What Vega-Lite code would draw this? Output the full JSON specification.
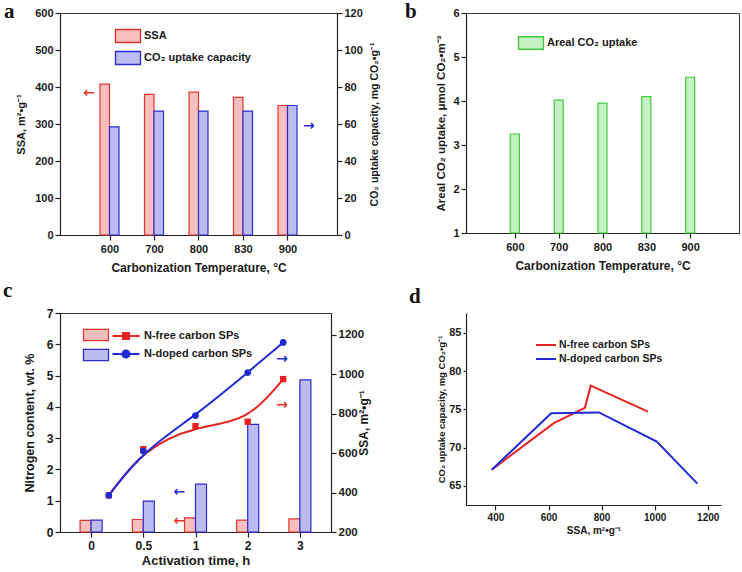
{
  "$schema": "https://vega.github.io/schema/vega-lite/v6.json",
  "background": "white",
  "padding": {"left": 2, "top": 0, "right": 2, "bottom": 2},
  "config": {
    "font": "Liberation Sans",
    "view": {"stroke": "#3a3a3a", "strokeWidth": 1},
    "axis": {"labelFont": "Liberation Sans", "labelFontWeight": "bold", "labelFontSize": 11, "labelColor": "#1a1a1a", "titleFont": "Liberation Sans", "titleFontWeight": "bold", "titleFontSize": 12, "titleColor": "#1a1a1a", "domainColor": "#222222", "domainWidth": 1.2, "tickColor": "#222222", "tickWidth": 1.2, "tickSize": 5, "grid": false, "labelPadding": 2, "labelFlush": false, "labelOverlap": false},
    "axisX": {"labelAngle": 0},
    "legend": {"labelFont": "Liberation Sans", "labelFontWeight": "bold", "labelFontSize": 11, "labelColor": "#1a1a1a", "labelLimit": 300, "padding": 0},
    "title": {"font": "Liberation Serif", "fontSize": 21, "fontWeight": "bold", "anchor": "start", "frame": "group", "offset": 0, "color": "#111111"}
  },
  "datasets": {
    "temperature": [
      {"temp": "600", "i": 0, "ssa": 408, "co2": 58.4, "areal": 3.25},
      {"temp": "700", "i": 1, "ssa": 380, "co2": 67.0, "areal": 4.02},
      {"temp": "800", "i": 2, "ssa": 386, "co2": 67.0, "areal": 3.95},
      {"temp": "830", "i": 3, "ssa": 372, "co2": 67.0, "areal": 4.10},
      {"temp": "900", "i": 4, "ssa": 350, "co2": 70.0, "areal": 4.54}
    ],
    "activationBars": [
      {"time": "0", "i": 0, "nfree": 0.37, "ndoped": 0.38},
      {"time": "0.5", "i": 1, "nfree": 0.40, "ndoped": 0.99},
      {"time": "1", "i": 2, "nfree": 0.45, "ndoped": 1.53},
      {"time": "2", "i": 3, "nfree": 0.38, "ndoped": 3.44},
      {"time": "3", "i": 4, "nfree": 0.42, "ndoped": 4.86}
    ],
    "activationSSA": [
      {"series": "N-free carbon SPs", "pos": 0.34, "ssa": 386},
      {"series": "N-free carbon SPs", "pos": 1, "ssa": 620},
      {"series": "N-free carbon SPs", "pos": 2, "ssa": 737},
      {"series": "N-free carbon SPs", "pos": 3, "ssa": 759},
      {"series": "N-free carbon SPs", "pos": 3.68, "ssa": 975},
      {"series": "N-doped carbon SPs", "pos": 0.34, "ssa": 386},
      {"series": "N-doped carbon SPs", "pos": 1, "ssa": 610},
      {"series": "N-doped carbon SPs", "pos": 2, "ssa": 790},
      {"series": "N-doped carbon SPs", "pos": 3, "ssa": 1008},
      {"series": "N-doped carbon SPs", "pos": 3.68, "ssa": 1161}
    ],
    "uptake": [
      {"series": "N-free carbon SPs", "ssa": 386, "co2": 67.1},
      {"series": "N-free carbon SPs", "ssa": 620, "co2": 73.2},
      {"series": "N-free carbon SPs", "ssa": 737, "co2": 75.2},
      {"series": "N-free carbon SPs", "ssa": 759, "co2": 78.1},
      {"series": "N-free carbon SPs", "ssa": 975, "co2": 74.7},
      {"series": "N-doped carbon SPs", "ssa": 386, "co2": 67.1},
      {"series": "N-doped carbon SPs", "ssa": 610, "co2": 74.5},
      {"series": "N-doped carbon SPs", "ssa": 790, "co2": 74.6},
      {"series": "N-doped carbon SPs", "ssa": 1008, "co2": 70.8},
      {"series": "N-doped carbon SPs", "ssa": 1161, "co2": 65.3}
    ],
    "marker": [{"note": "axis pointer"}]
  },
  "bounds": "flush",
  "columns": 2,
  "spacing": {"row": 78, "column": 129},
  "resolve": {"scale": {"stroke": "independent", "color": "independent", "fill": "independent"}, "legend": {"stroke": "independent", "color": "independent", "fill": "independent"}},
  "concat": [
    {
      "width": 277, "height": 222,
      "title": {"text": "a", "dx": -56, "dy": 19},
      "layer": [
        {"layer": [
          {"data": {"name": "temperature"},
           "mark": {"type": "bar", "width": 9.5, "xOffset": -4.75, "strokeWidth": 1.2, "opacity": 1},
           "encoding": {
             "x": {"field": "i", "type": "quantitative", "scale": {"domain": [-1, 5]}, "axis": {"values": [0, 1, 2, 3, 4], "labelExpr": "['600','700','800','830','900'][datum.value]", "title": "Carbonization Temperature, °C", "titlePadding": 8, "labelPadding": 3}},
             "y": {"field": "ssa", "type": "quantitative", "scale": {"domain": [0, 600]}, "axis": {"orient": "left", "values": [0, 100, 200, 300, 400, 500, 600], "title": "SSA, m²•g⁻¹", "titleFontSize": 11, "titlePadding": 8}},
             "fill": {"datum": "SSA", "type": "nominal", "scale": {"domain": ["SSA", "CO₂ uptake capacity"], "range": ["#f7c0be", "#bcbcf0"]},
               "legend": {"orient": "none", "legendX": 61, "legendY": 16, "title": null, "symbolType": "M-2,-1.04H2V1.04H-2Z", "symbolSize": 156, "symbolStrokeWidth": 1.3, "symbolOpacity": 1, "labelOffset": 9}},
             "stroke": {"datum": "SSA", "type": "nominal", "scale": {"domain": ["SSA", "CO₂ uptake capacity"], "range": ["#e5322c", "#2b2bd3"]},
               "legend": {"orient": "none", "legendX": 61, "legendY": 16, "title": null, "symbolType": "M-2,-1.04H2V1.04H-2Z", "symbolSize": 156, "symbolStrokeWidth": 1.3, "symbolOpacity": 1, "labelOffset": 9}}
           }},
          {"data": {"name": "marker"},
           "mark": {"type": "text", "text": "←", "font": "DejaVu Sans", "fontSize": 14, "fontWeight": "bold", "color": "#e5322c", "align": "center", "baseline": "middle"},
           "encoding": {
             "x": {"datum": -0.46, "type": "quantitative", "scale": {"domain": [-1, 5]}, "axis": {"values": [0, 1, 2, 3, 4], "labelExpr": "['600','700','800','830','900'][datum.value]", "title": "Carbonization Temperature, °C", "titlePadding": 8, "labelPadding": 3}},
             "y": {"datum": 384, "type": "quantitative", "scale": {"domain": [0, 600]}, "axis": {"orient": "left", "values": [0, 100, 200, 300, 400, 500, 600], "title": "SSA, m²•g⁻¹", "titleFontSize": 11, "titlePadding": 8}}
           }}
        ]},
        {"layer": [
          {"data": {"name": "temperature"},
           "mark": {"type": "bar", "width": 9.5, "xOffset": 4.75, "strokeWidth": 1.2, "opacity": 1},
           "encoding": {
             "x": {"field": "i", "type": "quantitative", "scale": {"domain": [-1, 5]}, "axis": {"values": [0, 1, 2, 3, 4], "labelExpr": "['600','700','800','830','900'][datum.value]", "title": "Carbonization Temperature, °C", "titlePadding": 8, "labelPadding": 3}},
             "y": {"field": "co2", "type": "quantitative", "scale": {"domain": [0, 120]}, "axis": {"orient": "right", "values": [0, 20, 40, 60, 80, 100, 120], "title": "CO₂ uptake capacity, mg CO₂•g⁻¹", "titleAngle": 270, "titleFontSize": 10.5, "titlePadding": 17}},
             "fill": {"datum": "CO₂ uptake capacity", "type": "nominal", "scale": {"domain": ["SSA", "CO₂ uptake capacity"], "range": ["#f7c0be", "#bcbcf0"]},
               "legend": {"orient": "none", "legendX": 61, "legendY": 16, "title": null, "symbolType": "M-2,-1.04H2V1.04H-2Z", "symbolSize": 156, "symbolStrokeWidth": 1.3, "symbolOpacity": 1, "labelOffset": 9}},
             "stroke": {"datum": "CO₂ uptake capacity", "type": "nominal", "scale": {"domain": ["SSA", "CO₂ uptake capacity"], "range": ["#e5322c", "#2b2bd3"]},
               "legend": {"orient": "none", "legendX": 61, "legendY": 16, "title": null, "symbolType": "M-2,-1.04H2V1.04H-2Z", "symbolSize": 156, "symbolStrokeWidth": 1.3, "symbolOpacity": 1, "labelOffset": 9}}
           }},
          {"data": {"name": "marker"},
           "mark": {"type": "text", "text": "→", "font": "DejaVu Sans", "fontSize": 14, "fontWeight": "bold", "color": "#2b2bd3", "align": "center", "baseline": "middle"},
           "encoding": {
             "x": {"datum": 4.48, "type": "quantitative", "scale": {"domain": [-1, 5]}, "axis": {"values": [0, 1, 2, 3, 4], "labelExpr": "['600','700','800','830','900'][datum.value]", "title": "Carbonization Temperature, °C", "titlePadding": 8, "labelPadding": 3}},
             "y": {"datum": 59, "type": "quantitative", "scale": {"domain": [0, 120]}, "axis": {"orient": "right", "values": [0, 20, 40, 60, 80, 100, 120], "title": "CO₂ uptake capacity, mg CO₂•g⁻¹", "titleAngle": 270, "titleFontSize": 10.5, "titlePadding": 17}}
           }}
        ]}
      ],
      "resolve": {"scale": {"y": "independent"}}
    },
    {
      "width": 273, "height": 220,
      "title": {"text": "b", "dx": -61, "dy": 19},
      "data": {"name": "temperature"},
      "mark": {"type": "bar", "width": 9, "strokeWidth": 1.2, "opacity": 1},
      "encoding": {
        "x": {"field": "i", "type": "quantitative", "scale": {"domain": [-1, 5]}, "axis": {"values": [0, 1, 2, 3, 4], "labelExpr": "['600','700','800','830','900'][datum.value]", "title": "Carbonization Temperature, °C", "titlePadding": 8, "labelPadding": 3}},
        "y": {"field": "areal", "type": "quantitative", "scale": {"domain": [1, 6]}, "axis": {"values": [1, 2, 3, 4, 5, 6], "title": "Areal CO₂ uptake, μmol CO₂•m⁻²", "titleFontSize": 11.5, "titlePadding": 6}},
        "y2": {"datum": 1},
        "fill": {"datum": "Areal CO₂ uptake", "type": "nominal", "scale": {"domain": ["Areal CO₂ uptake"], "range": ["#c4f0c4"]},
          "legend": {"orient": "none", "legendX": 58, "legendY": 23, "title": null, "symbolType": "M-2,-1H2V1H-2Z", "symbolSize": 156, "symbolStrokeWidth": 1.3, "symbolOpacity": 1, "labelOffset": 9}},
        "stroke": {"datum": "Areal CO₂ uptake", "type": "nominal", "scale": {"domain": ["Areal CO₂ uptake"], "range": ["#3dcc3d"]},
          "legend": {"orient": "none", "legendX": 58, "legendY": 23, "title": null, "symbolType": "M-2,-1H2V1H-2Z", "symbolSize": 156, "symbolStrokeWidth": 1.3, "symbolOpacity": 1, "labelOffset": 9}}
      }
    },
    {
      "width": 271, "height": 219,
      "title": {"text": "c", "dx": -57, "dy": -2},
      "layer": [
        {"layer": [
          {"data": {"name": "activationBars"},
           "mark": {"type": "bar", "width": 11, "xOffset": -5.5, "strokeWidth": 1.2, "opacity": 1},
           "encoding": {
             "x": {"field": "i", "type": "quantitative", "scale": {"domain": [-0.5, 4.5]}, "axis": {"values": [0, 1, 2, 3, 4], "labelExpr": "['0','0.5','1','2','3'][datum.value]", "title": "Activation time, h", "titleFontSize": 13, "labelFontSize": 12, "titlePadding": 3, "labelPadding": 3}},
             "y": {"field": "nfree", "type": "quantitative", "scale": {"domain": [0, 7]}, "axis": {"orient": "left", "values": [0, 1, 2, 3, 4, 5, 6, 7], "title": "Nitrogen content, wt. %", "titleFontSize": 12.5, "labelFontSize": 12, "titlePadding": 10}},
             "fill": {"datum": "N-free carbon SPs, N content", "type": "nominal", "scale": {"domain": ["N-free carbon SPs, N content", "N-doped carbon SPs, N content"], "range": ["#f7c0be", "#bcbcf0"]},
               "legend": {"orient": "none", "legendX": 29, "legendY": 15, "title": null, "labelExpr": "''", "symbolType": "M-2,-0.9H2V0.9H-2Z", "symbolSize": 156, "symbolStrokeWidth": 1.3, "symbolOpacity": 1}},
             "stroke": {"datum": "N-free carbon SPs, N content", "type": "nominal", "scale": {"domain": ["N-free carbon SPs, N content", "N-doped carbon SPs, N content"], "range": ["#e5322c", "#2b2bd3"]},
               "legend": {"orient": "none", "legendX": 29, "legendY": 15, "title": null, "labelExpr": "''", "symbolType": "M-2,-0.9H2V0.9H-2Z", "symbolSize": 156, "symbolStrokeWidth": 1.3, "symbolOpacity": 1}}
           }},
          {"data": {"name": "activationBars"},
           "mark": {"type": "bar", "width": 11, "xOffset": 5.5, "strokeWidth": 1.2, "opacity": 1},
           "encoding": {
             "x": {"field": "i", "type": "quantitative", "scale": {"domain": [-0.5, 4.5]}, "axis": {"values": [0, 1, 2, 3, 4], "labelExpr": "['0','0.5','1','2','3'][datum.value]", "title": "Activation time, h", "titleFontSize": 13, "labelFontSize": 12, "titlePadding": 3, "labelPadding": 3}},
             "y": {"field": "ndoped", "type": "quantitative", "scale": {"domain": [0, 7]}, "axis": {"orient": "left", "values": [0, 1, 2, 3, 4, 5, 6, 7], "title": "Nitrogen content, wt. %", "titleFontSize": 12.5, "labelFontSize": 12, "titlePadding": 10}},
             "fill": {"datum": "N-doped carbon SPs, N content", "type": "nominal", "scale": {"domain": ["N-free carbon SPs, N content", "N-doped carbon SPs, N content"], "range": ["#f7c0be", "#bcbcf0"]},
               "legend": {"orient": "none", "legendX": 29, "legendY": 15, "title": null, "labelExpr": "''", "symbolType": "M-2,-0.9H2V0.9H-2Z", "symbolSize": 156, "symbolStrokeWidth": 1.3, "symbolOpacity": 1}},
             "stroke": {"datum": "N-doped carbon SPs, N content", "type": "nominal", "scale": {"domain": ["N-free carbon SPs, N content", "N-doped carbon SPs, N content"], "range": ["#e5322c", "#2b2bd3"]},
               "legend": {"orient": "none", "legendX": 29, "legendY": 15, "title": null, "labelExpr": "''", "symbolType": "M-2,-0.9H2V0.9H-2Z", "symbolSize": 156, "symbolStrokeWidth": 1.3, "symbolOpacity": 1}}
           }},
          {"data": {"name": "marker"},
           "mark": {"type": "text", "text": "←", "font": "DejaVu Sans", "fontSize": 14, "fontWeight": "bold", "color": "#e5322c", "align": "center", "baseline": "middle"},
           "encoding": {
             "x": {"datum": 1.69, "type": "quantitative", "scale": {"domain": [-0.5, 4.5]}, "axis": {"values": [0, 1, 2, 3, 4], "labelExpr": "['0','0.5','1','2','3'][datum.value]", "title": "Activation time, h", "titleFontSize": 13, "labelFontSize": 12, "titlePadding": 3, "labelPadding": 3}},
             "y": {"datum": 0.35, "type": "quantitative", "scale": {"domain": [0, 7]}, "axis": {"orient": "left", "values": [0, 1, 2, 3, 4, 5, 6, 7], "title": "Nitrogen content, wt. %", "titleFontSize": 12.5, "labelFontSize": 12, "titlePadding": 10}}
           }},
          {"data": {"name": "marker"},
           "mark": {"type": "text", "text": "←", "font": "DejaVu Sans", "fontSize": 14, "fontWeight": "bold", "color": "#2b2bd3", "align": "center", "baseline": "middle"},
           "encoding": {
             "x": {"datum": 1.69, "type": "quantitative", "scale": {"domain": [-0.5, 4.5]}, "axis": {"values": [0, 1, 2, 3, 4], "labelExpr": "['0','0.5','1','2','3'][datum.value]", "title": "Activation time, h", "titleFontSize": 13, "labelFontSize": 12, "titlePadding": 3, "labelPadding": 3}},
             "y": {"datum": 1.28, "type": "quantitative", "scale": {"domain": [0, 7]}, "axis": {"orient": "left", "values": [0, 1, 2, 3, 4, 5, 6, 7], "title": "Nitrogen content, wt. %", "titleFontSize": 12.5, "labelFontSize": 12, "titlePadding": 10}}
           }}
        ]},
        {"layer": [
          {"data": {"name": "activationSSA"},
           "mark": {"type": "line", "interpolate": "basis", "strokeWidth": 2},
           "encoding": {
             "x": {"field": "pos", "type": "quantitative", "scale": {"domain": [-0.5, 4.5]}, "axis": {"values": [0, 1, 2, 3, 4], "labelExpr": "['0','0.5','1','2','3'][datum.value]", "title": "Activation time, h", "titleFontSize": 13, "labelFontSize": 12, "titlePadding": 3, "labelPadding": 3}},
             "y": {"field": "ssa", "type": "quantitative", "scale": {"domain": [200, 1310]}, "axis": {"orient": "right", "values": [200, 400, 600, 800, 1000, 1200], "format": "d", "title": "SSA, m²•g⁻¹", "titleAngle": 270, "titleFontSize": 12, "labelFontSize": 11.5, "titlePadding": 7}},
             "color": {"field": "series", "type": "nominal", "scale": {"domain": ["N-free carbon SPs", "N-doped carbon SPs"], "range": ["#e8231f", "#1f2ad6"]},
               "legend": {"orient": "none", "legendX": 58, "legendY": 15, "title": null, "symbolSize": 182, "labelOffset": 10,
                 "encode": {"symbols": {"update": {
                   "shape": {"signal": "datum.value === 'N-free carbon SPs' ? 'M-2,0H2M-0.45,-0.45H0.45V0.45H-0.45Z' : 'M-2,0H2M-0.52,0A0.52,0.52 0 1 1 0.52,0A0.52,0.52 0 1 1 -0.52,0Z'"},
                   "fill": {"signal": "datum.value === 'N-free carbon SPs' ? '#e8231f' : '#1f2ad6'"},
                   "stroke": {"signal": "datum.value === 'N-free carbon SPs' ? '#e8231f' : '#1f2ad6'"},
                   "strokeWidth": {"value": 2},
                   "size": {"value": 182},
                   "opacity": {"value": 1}}}}}}
           }},
          {"data": {"name": "activationSSA"},
           "transform": [{"filter": "datum.series === 'N-free carbon SPs'"}],
           "mark": {"type": "point", "filled": true, "size": 40, "opacity": 1, "shape": "square"},
           "encoding": {
             "x": {"field": "pos", "type": "quantitative", "scale": {"domain": [-0.5, 4.5]}, "axis": {"values": [0, 1, 2, 3, 4], "labelExpr": "['0','0.5','1','2','3'][datum.value]", "title": "Activation time, h", "titleFontSize": 13, "labelFontSize": 12, "titlePadding": 3, "labelPadding": 3}},
             "y": {"field": "ssa", "type": "quantitative", "scale": {"domain": [200, 1310]}, "axis": {"orient": "right", "values": [200, 400, 600, 800, 1000, 1200], "format": "d", "title": "SSA, m²•g⁻¹", "titleAngle": 270, "titleFontSize": 12, "labelFontSize": 11.5, "titlePadding": 7}},
             "color": {"field": "series", "type": "nominal", "scale": {"domain": ["N-free carbon SPs", "N-doped carbon SPs"], "range": ["#e8231f", "#1f2ad6"]},
               "legend": {"orient": "none", "legendX": 58, "legendY": 15, "title": null, "symbolSize": 182, "labelOffset": 10,
                 "encode": {"symbols": {"update": {
                   "shape": {"signal": "datum.value === 'N-free carbon SPs' ? 'M-2,0H2M-0.45,-0.45H0.45V0.45H-0.45Z' : 'M-2,0H2M-0.52,0A0.52,0.52 0 1 1 0.52,0A0.52,0.52 0 1 1 -0.52,0Z'"},
                   "fill": {"signal": "datum.value === 'N-free carbon SPs' ? '#e8231f' : '#1f2ad6'"},
                   "stroke": {"signal": "datum.value === 'N-free carbon SPs' ? '#e8231f' : '#1f2ad6'"},
                   "strokeWidth": {"value": 2},
                   "size": {"value": 182},
                   "opacity": {"value": 1}}}}}}
           }},
          {"data": {"name": "activationSSA"},
           "transform": [{"filter": "datum.series === 'N-doped carbon SPs'"}],
           "mark": {"type": "point", "filled": true, "size": 45, "opacity": 1, "shape": "circle"},
           "encoding": {
             "x": {"field": "pos", "type": "quantitative", "scale": {"domain": [-0.5, 4.5]}, "axis": {"values": [0, 1, 2, 3, 4], "labelExpr": "['0','0.5','1','2','3'][datum.value]", "title": "Activation time, h", "titleFontSize": 13, "labelFontSize": 12, "titlePadding": 3, "labelPadding": 3}},
             "y": {"field": "ssa", "type": "quantitative", "scale": {"domain": [200, 1310]}, "axis": {"orient": "right", "values": [200, 400, 600, 800, 1000, 1200], "format": "d", "title": "SSA, m²•g⁻¹", "titleAngle": 270, "titleFontSize": 12, "labelFontSize": 11.5, "titlePadding": 7}},
             "color": {"field": "series", "type": "nominal", "scale": {"domain": ["N-free carbon SPs", "N-doped carbon SPs"], "range": ["#e8231f", "#1f2ad6"]},
               "legend": {"orient": "none", "legendX": 58, "legendY": 15, "title": null, "symbolSize": 182, "labelOffset": 10,
                 "encode": {"symbols": {"update": {
                   "shape": {"signal": "datum.value === 'N-free carbon SPs' ? 'M-2,0H2M-0.45,-0.45H0.45V0.45H-0.45Z' : 'M-2,0H2M-0.52,0A0.52,0.52 0 1 1 0.52,0A0.52,0.52 0 1 1 -0.52,0Z'"},
                   "fill": {"signal": "datum.value === 'N-free carbon SPs' ? '#e8231f' : '#1f2ad6'"},
                   "stroke": {"signal": "datum.value === 'N-free carbon SPs' ? '#e8231f' : '#1f2ad6'"},
                   "strokeWidth": {"value": 2},
                   "size": {"value": 182},
                   "opacity": {"value": 1}}}}}}
           }},
          {"data": {"name": "marker"},
           "mark": {"type": "text", "text": "→", "font": "DejaVu Sans", "fontSize": 14, "fontWeight": "bold", "color": "#e5322c", "align": "center", "baseline": "middle"},
           "encoding": {
             "x": {"datum": 3.66, "type": "quantitative", "scale": {"domain": [-0.5, 4.5]}, "axis": {"values": [0, 1, 2, 3, 4], "labelExpr": "['0','0.5','1','2','3'][datum.value]", "title": "Activation time, h", "titleFontSize": 13, "labelFontSize": 12, "titlePadding": 3, "labelPadding": 3}},
             "y": {"datum": 844, "type": "quantitative", "scale": {"domain": [200, 1310]}, "axis": {"orient": "right", "values": [200, 400, 600, 800, 1000, 1200], "format": "d", "title": "SSA, m²•g⁻¹", "titleAngle": 270, "titleFontSize": 12, "labelFontSize": 11.5, "titlePadding": 7}}
           }},
          {"data": {"name": "marker"},
           "mark": {"type": "text", "text": "→", "font": "DejaVu Sans", "fontSize": 14, "fontWeight": "bold", "color": "#2b2bd3", "align": "center", "baseline": "middle"},
           "encoding": {
             "x": {"datum": 3.66, "type": "quantitative", "scale": {"domain": [-0.5, 4.5]}, "axis": {"values": [0, 1, 2, 3, 4], "labelExpr": "['0','0.5','1','2','3'][datum.value]", "title": "Activation time, h", "titleFontSize": 13, "labelFontSize": 12, "titlePadding": 3, "labelPadding": 3}},
             "y": {"datum": 1077, "type": "quantitative", "scale": {"domain": [200, 1310]}, "axis": {"orient": "right", "values": [200, 400, 600, 800, 1000, 1200], "format": "d", "title": "SSA, m²•g⁻¹", "titleAngle": 270, "titleFontSize": 12, "labelFontSize": 11.5, "titlePadding": 7}}
           }}
        ]}
      ],
      "resolve": {"scale": {"y": "independent"}}
    },
    {
      "width": 255, "height": 192,
      "title": {"text": "d", "dx": -57, "dy": -2},
      "view": {"stroke": null},
      "data": {"name": "uptake"},
      "mark": {"type": "line", "strokeWidth": 2},
      "encoding": {
        "x": {"field": "ssa", "type": "quantitative", "scale": {"domain": [289, 1250]}, "axis": {"values": [400, 600, 800, 1000, 1200], "format": "d", "title": "SSA, m²•g⁻¹", "labelFontSize": 10, "titleFontSize": 10, "titlePadding": 3}},
        "y": {"field": "co2", "type": "quantitative", "scale": {"domain": [62.5, 87.6]}, "axis": {"values": [65, 70, 75, 80, 85], "title": "CO₂ uptake capacity, mg CO₂•g⁻¹", "titleFontSize": 9.5, "labelFontSize": 11, "tickSize": 3, "titlePadding": 2}},
        "color": {"field": "series", "type": "nominal", "scale": {"domain": ["N-free carbon SPs", "N-doped carbon SPs"], "range": ["#e8231f", "#1f2ad6"]},
          "legend": {"orient": "none", "legendX": 74, "legendY": 26, "title": null, "symbolType": "M-2,0H2", "symbolSize": 100, "symbolStrokeWidth": 2, "labelOffset": 7, "labelFontSize": 10.5}}
      }
    }
  ]
}
